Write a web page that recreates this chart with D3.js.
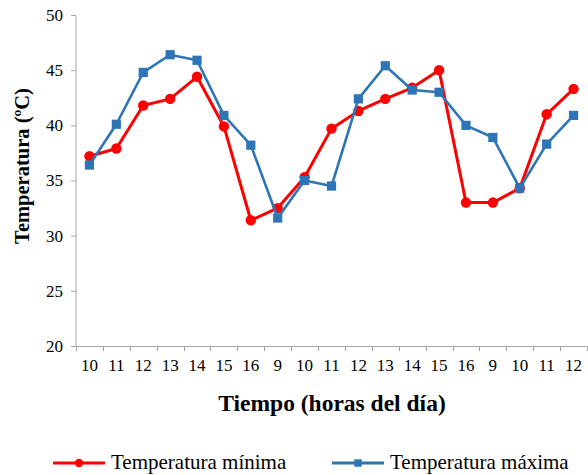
<!DOCTYPE html>
<html>
<head>
<meta charset="utf-8">
<script src="https://cdn.jsdelivr.net/npm/d3@7"></script>
<style>
  body { margin: 0; background: #fff; }
</style>
</head>
<body>
<div id="chart"></div>
<script>
// horas del día (eje x)
var horas = ["10", "11", "12", "13", "14", "15", "16", "9", "10", "11", "12", "13", "14", "15", "16", "9", "10", "11", "12"];
// temperaturas en ºC
var tempMin = [37.2, 37.9, 41.8, 42.4, 44.4, 39.9, 31.4, 32.5, 35.3, 39.7, 41.3, 42.4, 43.4, 45.0, 33.0, 33.0, 34.3, 41.0, 43.3];
var tempMax = [36.4, 40.1, 44.8, 46.4, 45.9, 40.9, 38.2, 31.6, 35.0, 34.5, 42.4, 45.4, 43.2, 43.0, 40.0, 38.9, 34.3, 38.3, 40.9];
var yTicks = [20, 25, 30, 35, 40, 45, 50];

var series = [
    { nombre: "Temperatura mínima", valores: tempMin, color: "#ff0000", marca: "circle" },
    { nombre: "Temperatura máxima", valores: tempMax, color: "#2e75b6", marca: "square" }
];

var width = 588;
var height = 475;
var gris = "#a6a6a6";
var fuente = "'Liberation Serif', 'Times New Roman', serif";

var svg = d3.select("#chart")
    .append("svg")
    .attr("width", width)
    .attr("height", height);

var scalex = d3.scaleBand()
    .domain(d3.range(horas.length))
    .range([76, 587]);

var scaley = d3.scaleLinear()
    .domain([20, 50])
    .range([346, 15]);

// eje y
var Yaxis = d3.axisLeft(scaley).tickValues(yTicks).tickSize(5).tickPadding(8);
var gy = svg.append("g").attr("transform", "translate(76,0)").call(Yaxis);
gy.select(".domain").attr("stroke", gris).attr("d", "M-5,15.5H0V346.5");
gy.selectAll(".tick line").attr("stroke", gris);
gy.selectAll(".tick text").attr("fill", "#000")
    .style("font-family", fuente).style("font-size", "17px");

// eje x
var Xaxis = d3.axisBottom(scalex).tickSize(0).tickPadding(13).tickFormat((i) => horas[i]);
var gx = svg.append("g").attr("transform", "translate(0,346)").call(Xaxis);
gx.select(".domain").attr("stroke", gris).attr("d", "M76,0.5H588");
gx.selectAll(".tick text").attr("fill", "#000")
    .style("font-family", fuente).style("font-size", "17px");
// marcas entre categorías
var bordes = d3.range(horas.length + 1).map((i) => 76 + i * scalex.step());
gx.selectAll(".borde")
    .data(bordes)
    .enter()
    .append("line")
    .attr("class", "borde")
    .attr("x1", (d) => Math.round(d) + 0.5)
    .attr("x2", (d) => Math.round(d) + 0.5)
    .attr("y1", 0)
    .attr("y2", 5)
    .attr("stroke", gris);

// títulos
svg.append("text")
    .attr("transform", "translate(29,166) rotate(-90)")
    .attr("text-anchor", "middle")
    .style("font-family", fuente)
    .style("font-size", "20.5px")
    .style("font-weight", "bold")
    .text("Temperatura (ºC)");

svg.append("text")
    .attr("x", 332)
    .attr("y", 411)
    .attr("text-anchor", "middle")
    .style("font-family", fuente)
    .style("font-size", "23.5px")
    .style("font-weight", "bold")
    .text("Tiempo (horas del día)");

// líneas y marcas
var linea = d3.line()
    .x((d, i) => scalex(i) + scalex.bandwidth() / 2)
    .y((d) => scaley(d));

series.forEach((s) => {
    svg.append("path")
        .datum(s.valores)
        .attr("fill", "none")
        .attr("stroke", s.color)
        .attr("stroke-width", s.marca == "circle" ? 3 : 2.6)
        .attr("stroke-linejoin", "round")
        .attr("d", linea);

    var sym = d3.symbol()
        .type(s.marca == "circle" ? d3.symbolCircle : d3.symbolSquare)
        .size(85);

    svg.selectAll(".m_" + s.marca)
        .data(s.valores)
        .enter()
        .append("path")
        .attr("class", "m_" + s.marca)
        .attr("transform", (d, i) => "translate(" + (scalex(i) + scalex.bandwidth() / 2) + "," + scaley(d) + ")")
        .attr("d", sym)
        .attr("fill", s.color);
});

// leyenda
var leyendaX = [53, 332];
var leyenda = svg.selectAll(".leyenda")
    .data(series)
    .enter()
    .append("g")
    .attr("class", "leyenda")
    .attr("transform", (d, i) => "translate(" + leyendaX[i] + ",463)");

leyenda.append("line")
    .attr("x1", 0)
    .attr("x2", 52)
    .attr("stroke", (d) => d.color)
    .attr("stroke-width", 3);

leyenda.append("path")
    .attr("transform", "translate(26,0)")
    .attr("d", (d) => d3.symbol().type(d.marca == "circle" ? d3.symbolCircle : d3.symbolSquare).size(55)())
    .attr("fill", (d) => d.color);

leyenda.append("text")
    .attr("x", 58)
    .attr("y", 6)
    .style("font-family", fuente)
    .style("font-size", "21px")
    .text((d) => d.nombre);
</script>
</body>
</html>
